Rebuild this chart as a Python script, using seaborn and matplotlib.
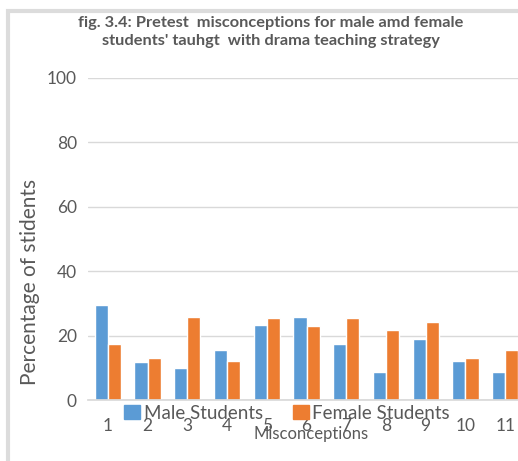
import matplotlib
matplotlib.use("Agg")
import matplotlib.pyplot as plt
import seaborn as sns
import pandas as pd
from matplotlib.patches import Rectangle

categories = ["1", "2", "3", "4", "5", "6", "7", "8", "9", "10", "11"]
male = [29.4, 11.9, 10.0, 15.5, 23.3, 25.7, 17.4, 8.6, 18.8, 12.2, 8.6]
female = [17.4, 12.9, 25.7, 12.2, 25.4, 23.0, 25.6, 21.6, 24.1, 12.9, 15.6]
series = ["Male Students", "Female Students"]
yticks = [0, 20, 40, 60, 80, 100]

df = pd.DataFrame({
    "Misconceptions": categories * 2,
    "value": male + female,
    "series": [series[0]] * len(categories) + [series[1]] * len(categories),
})

sns.set_theme(style="white")
plt.rcParams["font.family"] = ["Lato", "DejaVu Sans"]
gray = "#595959"

W, H = 518, 461
fig = plt.figure(figsize=(W / 100, H / 100), dpi=100)
fig.patch.set_facecolor("white")

# outer chart border (partially visible)
fig.add_artist(Rectangle((8 / W, -0.1), 1.2, (H - 11) / H + 0.1,
                         transform=fig.transFigure, fill=False,
                         edgecolor="#dcdcdc", linewidth=3))

ax = fig.add_axes([88 / W, 61 / H, 437 / W, 322 / H])
sns.barplot(data=df, x="Misconceptions", y="value", hue="series",
            palette=["#5B9BD5", "#ED7D31"], width=0.66, saturation=1,
            ax=ax, legend=False)

ax.set_ylim(0, 100)
ax.set_yticks(yticks)
ax.set_xlim(-0.5, 10.5)
ax.yaxis.grid(True, color="#d9d9d9", linewidth=1)
ax.set_axisbelow(True)
for s in ["top", "right", "left"]:
    ax.spines[s].set_visible(False)
ax.spines["bottom"].set_color("#d9d9d9")
ax.tick_params(axis="both", length=0, labelsize=12.5, colors=gray)
ax.tick_params(axis="y", pad=8)
ax.tick_params(axis="x", pad=13)
ax.set_xlabel("")
ax.set_ylabel("")

fig.text(30 / W, 1 - 282 / H, "Percentage of stidents", rotation=90,
         ha="center", va="center", fontsize=15, color=gray)
fig.text(311 / W, 1 - 434 / H, "Misconceptions", ha="center", va="center",
         fontsize=12, color=gray)
fig.text(271 / W, 1 - 32 / H,
         "fig. 3.4: Pretest  misconceptions for male amd female\nstudents' tauhgt  with drama teaching strategy",
         ha="center", va="center", fontsize=11.8, fontweight="bold", color=gray,
         linespacing=1.4)

handles = [Rectangle((0, 0), 1, 1, color=c) for c in ["#5B9BD5", "#ED7D31"]]
leg = fig.legend(handles, series, loc="center", bbox_to_anchor=(287 / W, 1 - 413 / H),
                 ncol=2, frameon=False, fontsize=13.5, handlelength=0.85,
                 handleheight=0.85, handletextpad=0.2, columnspacing=1.6,
                 borderpad=0, borderaxespad=0)
for t in leg.get_texts():
    t.set_color(gray)

fig.savefig("out.png", dpi=100)
